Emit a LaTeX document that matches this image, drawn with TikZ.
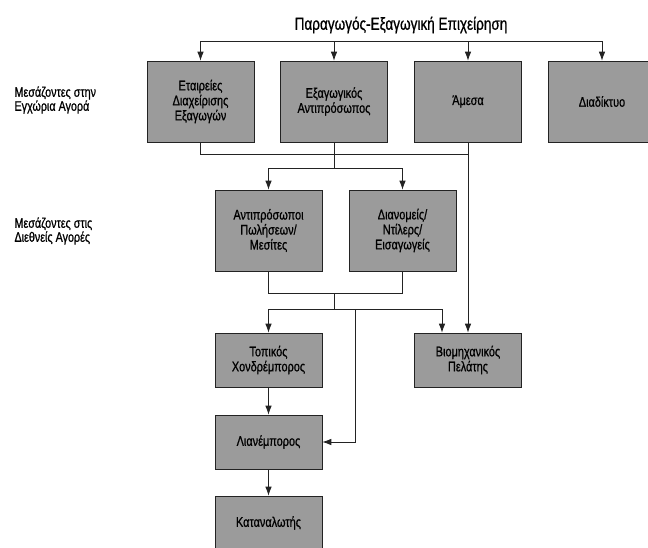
\documentclass[tikz,border=0pt]{standalone}
\usepackage{fontspec}
\setmainfont{Liberation Sans}[FakeStretch=0.78,FakeBold=0.8]
\usetikzlibrary{arrows.meta,positioning,calc}
\definecolor{boxcolor}{RGB}{155,155,155}
\definecolor{linecolor}{RGB}{35,35,35}

\begin{document}
\begin{tikzpicture}[x=1pt,y=-1pt,
    chbox/.style={draw=linecolor, fill=boxcolor, line width=0.6pt, minimum width=107pt,
      align=center, inner sep=2pt, font=\fontsize{14}{15}\selectfont},
    tallbox/.style={chbox, minimum height=81pt},
    flatbox/.style={chbox, minimum height=54pt},
    sidelabel/.style={anchor=west, align=left, font=\fontsize{13.8}{14}\selectfont},
    link/.style={draw=linecolor, line width=0.8pt},
    arr/.style={-{Latex[length=9pt,width=6.5pt]}}]
    \useasboundingbox (0,0) rectangle (648,547);
    \node[font=\fontsize{17.4}{18}\selectfont] (firm) at (401,25) {Παραγωγός-Εξαγωγική Επιχείρηση};
    \node[sidelabel] (domlbl) at (11,100) {Μεσάζοντες στην\\Εγχώρια Αγορά};
    \node[sidelabel] (intlbl) at (11,231) {Μεσάζοντες στις\\Διεθνείς Αγορές};
    \node[tallbox] (emc) at (200.5,101.5) {Εταιρείες\\Διαχείρισης\\Εξαγωγών};
    \node[tallbox] (agent) at (334,101.5) {Εξαγωγικός\\Αντιπρόσωπος};
    \node[tallbox] (direct) at (468,101.5) {Άμεσα};
    \node[tallbox] (web) at (602,101.5) {Διαδίκτυο};
    \node[tallbox] (salesrep) at (268.5,230.5) {Αντιπρόσωποι\\Πωλήσεων/\\Μεσίτες};
    \node[tallbox] (distrib) at (402.5,230.5) {Διανομείς/\\Ντίλερς/\\Εισαγωγείς};
    \node[flatbox] (wholesale) at (268.5,360) {Τοπικός\\Χονδρέμπορος};
    \node[flatbox] (industrial) at (468,360) {Βιομηχανικός\\Πελάτης};
    \node[flatbox] (retail) at (268.5,442) {Λιανέμπορος};
    \node[flatbox] (consumer) at (268.5,523) {Καταναλωτής};
    \coordinate (topbar) at (0,41);
    \coordinate (upjoin) at (0,154);
    \coordinate (upsplit) at (0,168);
    \coordinate (lowjoin) at (0,293);
    \coordinate (lowsplit) at (0,309);
    \coordinate (retailfeed) at (355,309);
    \coordinate (indfeed) at (442,309);
    \draw[link] (topbar -| emc) -- (topbar -| web);
    \foreach \n in {emc,agent,direct,web}{
      \draw[link,arr] (topbar -| \n) -- (\n.north);
    }
    \draw[link] (emc.south) -- (upjoin -| emc) -- (upjoin -| direct);
    \draw[link] (agent.south) -- (upsplit -| agent);
    \draw[link] (upsplit -| salesrep) -- (upsplit -| distrib);
    \foreach \n in {salesrep,distrib}{
      \draw[link,arr] (upsplit -| \n) -- (\n.north);
    }
    \draw[link,arr] (direct.south) -- (industrial.north);
    \draw[link] (salesrep.south) -- (lowjoin -| salesrep) -- (lowjoin -| distrib) -- (distrib.south);
    \draw[link] (lowjoin -| agent) -- (lowsplit -| agent);
    \draw[link] (lowsplit -| wholesale) -- (indfeed);
    \draw[link,arr] (lowsplit -| wholesale) -- (wholesale.north);
    \draw[link,arr] (indfeed) -- (indfeed |- industrial.north);
    \draw[link,arr] (retailfeed) |- (retail.east);
    \draw[link,arr] (wholesale) -- (retail);
    \draw[link,arr] (retail) -- (consumer);
  \end{tikzpicture}
\end{document}
